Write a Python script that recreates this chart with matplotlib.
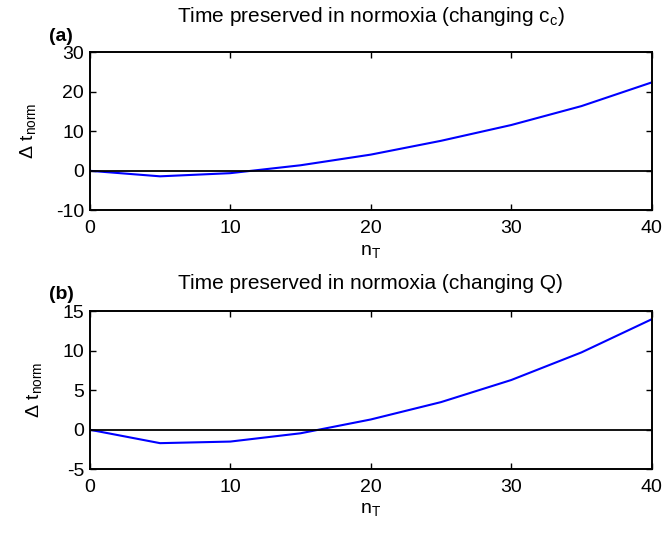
import numpy as np
import matplotlib
matplotlib.use("Agg")
import matplotlib.pyplot as plt

plt.rcParams['font.family'] = ['Liberation Sans', 'DejaVu Sans']
plt.rcParams['mathtext.default'] = 'regular'
plt.rcParams['axes.unicode_minus'] = False
plt.rcParams['font.size'] = 14

# data
n_T = [0, 5, 10, 15, 20, 25, 30, 35, 40]
dt_cc = [0, -1.4, -0.6, 1.4, 4.1, 7.6, 11.6, 16.4, 22.4]
dt_Q = [0, -1.7, -1.5, -0.45, 1.3, 3.5, 6.3, 9.8, 14.0]

titles = ['Time preserved in normoxia (changing c$_c$)',
          'Time preserved in normoxia (changing Q)']
title_pads = [22, 16]
panels = ['(a)', '(b)']
ylims = [(-10, 30), (-5, 15)]
yticks = [[-10, 0, 10, 20, 30], [-5, 0, 5, 10, 15]]

fig = plt.figure(figsize=(6.65, 5.35), dpi=100)
ax1 = fig.add_axes([0.135, 0.607, 0.845, 0.295])
ax2 = fig.add_axes([0.135, 0.123, 0.845, 0.295])

for ax, y, title, tpad, panel, yl, yt in zip([ax1, ax2], [dt_cc, dt_Q], titles,
                                             title_pads, panels, ylims, yticks):
    ax.plot(n_T, y, color='#0000ff', lw=1.5)
    ax.axhline(0, color='black', lw=1.3)
    ax.set_xlim(0, 40)
    ax.set_ylim(*yl)
    ax.set_xticks([0, 10, 20, 30, 40])
    ax.set_yticks(yt)
    ax.tick_params(direction='in', top=True, right=True, length=4.5, width=1,
                   labelsize=14)
    ax.tick_params(axis='x', pad=7)
    ax.tick_params(axis='y', pad=4)
    for s in ax.spines.values():
        s.set_linewidth(1.4)
    ax.set_xlabel('n$_T$', fontsize=14, labelpad=4)
    ax.set_ylabel(r'$\Delta$ t$_{norm}$', fontsize=14, labelpad=13)
    ax.set_title(title, fontsize=15, pad=tpad)
    ax.text(-0.072, 1.05, panel, transform=ax.transAxes, fontweight='bold',
            fontsize=14, ha='left', va='bottom')

fig.savefig('out.png', dpi=100)
